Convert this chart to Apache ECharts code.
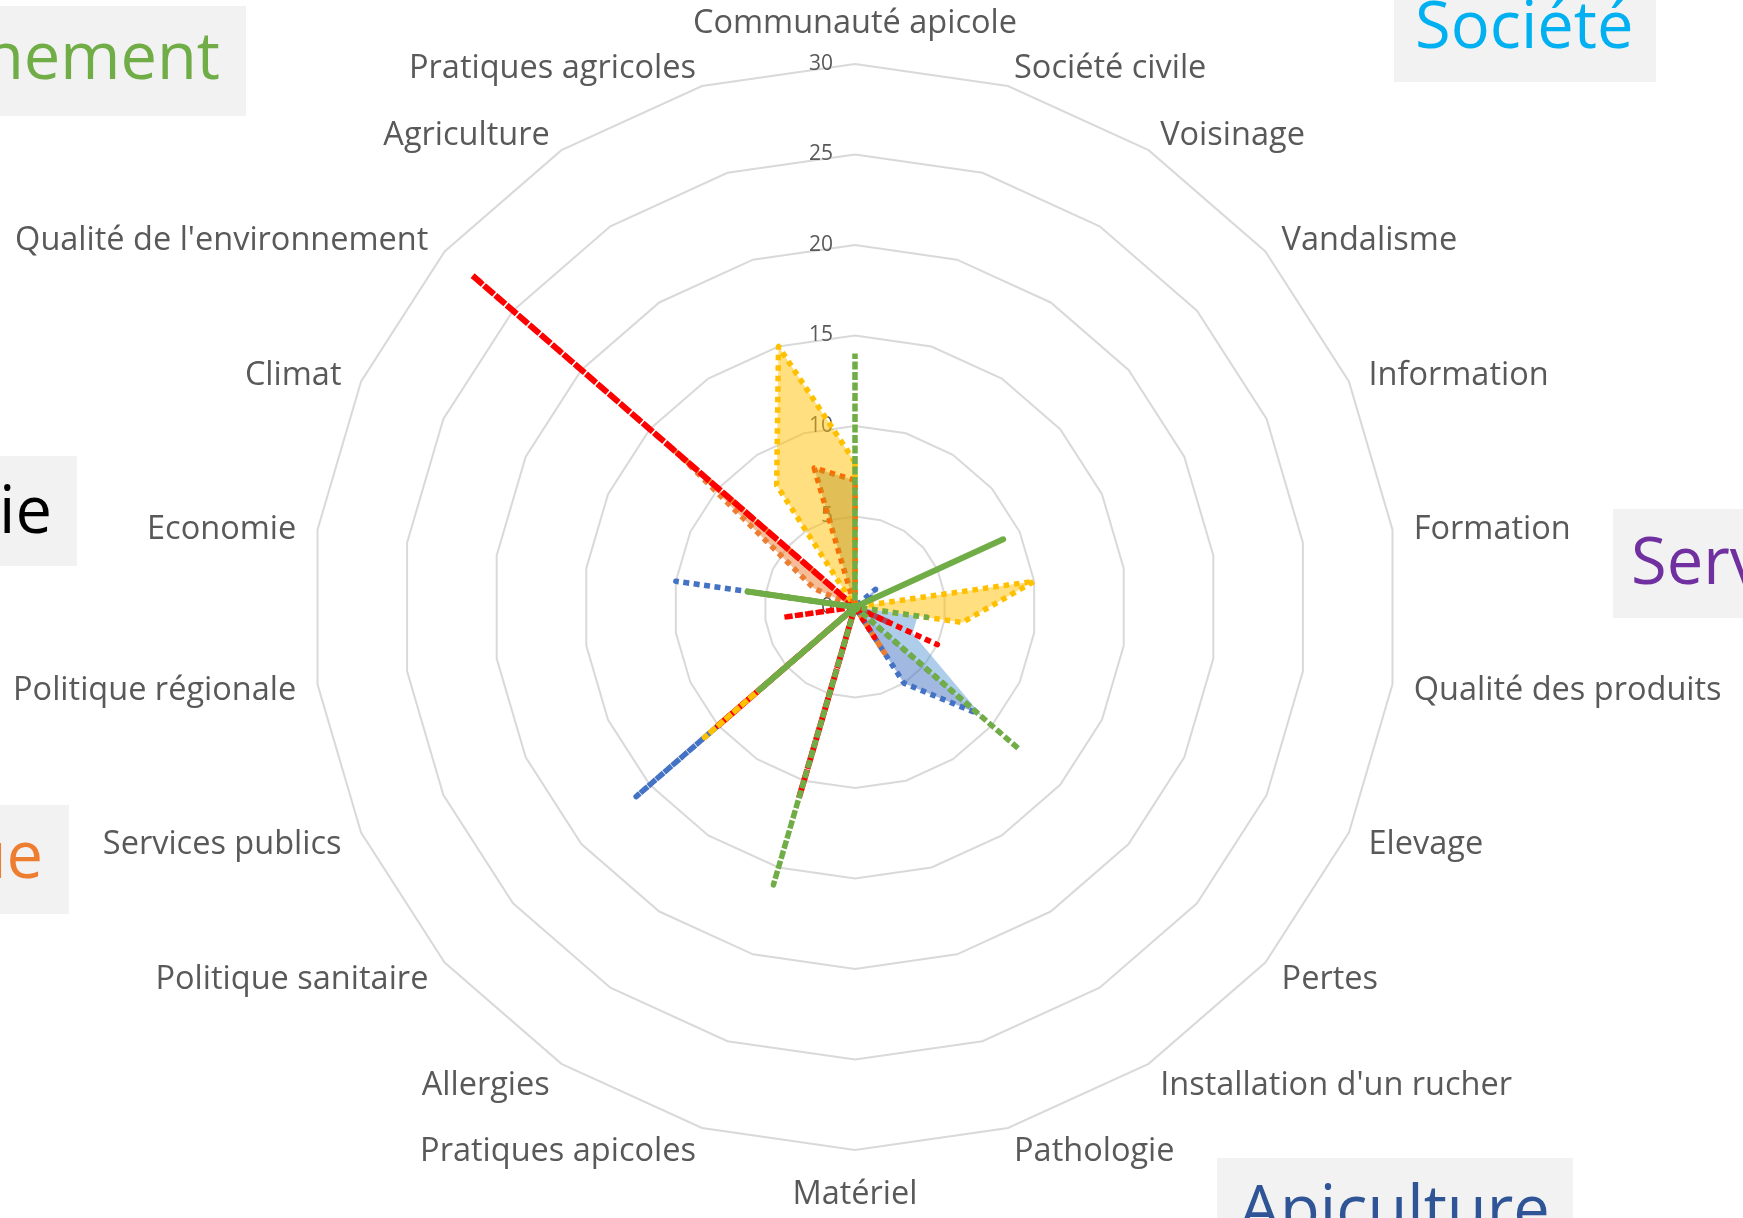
<!DOCTYPE html>
<html><head><meta charset="utf-8">
<script src="https://cdn.jsdelivr.net/npm/echarts@6/dist/echarts.min.js"></script>
<style>html,body{margin:0;padding:0;background:#fff}#c{width:1743px;height:1218px}</style>
</head><body><div id="c"></div>
<script>
// Categories in clockwise order starting at the top
const categories = ["Communauté apicole","Société civile","Voisinage","Vandalisme","Information","Formation","Qualité des produits","Elevage","Pertes","Installation d'un rucher","Pathologie","Matériel","Pratiques apicoles","Allergies","Politique sanitaire","Services publics","Politique régionale","Economie","Climat","Qualité de l'environnement","Agriculture","Pratiques agricoles"];
const axisMin = 0, axisMax = 30, axisStep = 5;

// Series values (same order as categories)
const bleuClair   = [0,0,0,0,0,0,3.5,3.5,9.5,0,0,0,0,0,0,0,0,0,0,0,0,0];
const bleu        = [0,0,0,1.5,1,0,0,0,9,5,0,0,0,0,16,0,0,10,0,0,0,0];
const orange      = [0,0,0,0,0,0,0,0,0,3,0,0,0,0,0,0,0,0,2.5,13,0,0];
const rougeTirets = [0,0,0,0,0,0,0,0,0,0,0,0,11,0,10,0,0,0,0,28,0,0];
const or          = [8,0,0,0,0,10,6,0,0,0,0,0,0,0,11,0,0,5,0,0,8,15];
const orangeVif   = [7,0,0,0,0,0,0,0,0,0,0,0,0,0,0,0,0,0,0,0,0,8];
const bordeaux    = [0,0,0,0,0,0,0,2,0,0,0,0,0,0,0,0,0,0,0,0,0,0];
const rougePoints = [0,0,0,0,0,0,0,5,0,2,0,0,0,0,0,0,4,0,0,0,0,0];
const vertPlein   = [0,0,0,0,9,0,0,0,0,0,0,0,0,0,7,0,0,6,0,0,0,0];
const vertPoints  = [14,0,0,0,0,0,4,0,12,0,0,0,16,0,0,0,0,6,0,0,0,0];

// ECharts places radar indicators counter-clockwise: reorder for clockwise display
const order = [0];
for (let i = categories.length - 1; i >= 1; i--) order.push(i);
const reorder = arr => order.map(i => arr[i]);

const font = '"Open Sans", "DejaVu Sans", sans-serif';
const indicator = order.map((i, k) => ({
  name: categories[i], min: axisMin, max: axisMax,
  axisLabel: k === 0 ? {show: true, color: '#595959', fontSize: 21, fontFamily: font, margin: 22, showMinLabel: true, showMaxLabel: true} : {show: false}
}));

function mk(name, arr, color, width, type, fill) {
  const s = {
    type: 'radar', name: name, symbol: 'none', silent: true,
    lineStyle: {color: color, width: width, type: type, cap: 'butt', opacity: width > 0 ? 1 : 0},
    data: [{value: reorder(arr)}]
  };
  if (fill) s.areaStyle = {color: fill, opacity: 1};
  return s;
}
const dot = [5.5, 5];
const series = [
  mk('Bleu clair', bleuClair, '#5B9BD5', 0, 'solid', 'rgba(91,155,213,0.5)'),
  mk('Bleu', bleu, '#4472C4', 5.5, dot, 'rgba(68,114,196,0.5)'),
  mk('Orange', orange, '#ED7D31', 5.5, dot, 'rgba(237,125,49,0.5)'),
  mk('Rouge tirets', rougeTirets, '#FF0000', 6, [11, 4], null),
  mk('Or', or, '#FFC000', 5.5, dot, 'rgba(255,192,0,0.5)'),
  mk('Orange vif', orangeVif, '#FF6A00', 5.5, dot, 'rgba(190,150,40,0.45)'),
  mk('Bordeaux', bordeaux, '#A9455D', 6, [11, 3], null),
  mk('Rouge pointillé', rougePoints, '#FF0000', 5.5, dot, null),
  mk('Vert plein', vertPlein, '#70AD47', 6, 'solid', null),
  mk('Vert pointillé', vertPoints, '#70AD47', 5.5, dot, null)
];

const boxes = [
  {text: 'Environnement', color: '#70AD47', rect: [-10, 6, 256, 110], tx: 220, ty: 60, align: 'right'},
  {text: 'Société', color: '#00B0F0', rect: [1394, -10, 262, 92], tx: 1415, ty: 29, align: 'left'},
  {text: 'Economie', color: '#000000', rect: [-10, 456, 87, 110], tx: 52, ty: 514, align: 'right'},
  {text: 'Services', color: '#7030A0', rect: [1613, 509, 200, 109], tx: 1631, ty: 565, align: 'left'},
  {text: 'Politique', color: '#ED7D31', rect: [-10, 805, 79, 109], tx: 43, ty: 859, align: 'right'},
  {text: 'Apiculture', color: '#2F5597', rect: [1217, 1158, 356, 100], tx: 1239, ty: 1213, align: 'left'}
];
const graphic = [];
boxes.forEach(b => {
  graphic.push({type: 'rect', shape: {x: b.rect[0], y: b.rect[1], width: b.rect[2], height: b.rect[3]}, style: {fill: '#F2F2F2'}, silent: true});
  graphic.push({type: 'text', x: b.tx, y: b.ty, style: {text: b.text, font: '65px ' + font, fill: b.color, align: b.align, verticalAlign: 'middle'}, silent: true});
});

const chart = echarts.init(document.getElementById('c'), null, {renderer: 'canvas'});
chart.setOption({
  animation: false,
  backgroundColor: '#ffffff',
  graphic: graphic,
  radar: {
    center: [855, 607], radius: 543, startAngle: 90, shape: 'polygon',
    splitNumber: (axisMax - axisMin) / axisStep,
    indicator: indicator,
    nameGap: 21.5,
    axisName: {
      color: '#595959', fontSize: 32.5, fontFamily: font, padding: [7, 0, 0, 0],
      formatter: function (name) { return name === categories[0] ? '{top|' + name + '}' : name; },
      rich: {top: {color: '#595959', fontSize: 32.5, fontFamily: font, lineHeight: 37}}
    },
    axisLine: {show: false},
    axisTick: {show: false},
    axisLabel: {show: false},
    splitLine: {lineStyle: {color: '#D9D9D9', width: 2}},
    splitArea: {show: false}
  },
  series: series
});
</script></body></html>
